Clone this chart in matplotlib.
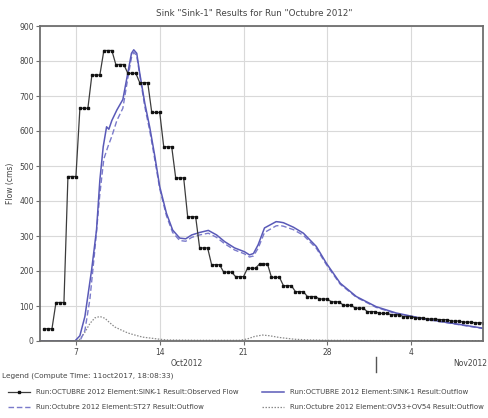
import datetime as dt
import matplotlib
matplotlib.use("Agg")
import matplotlib.pyplot as plt
from matplotlib.lines import Line2D

plt.rcParams['font.family'] = ['DejaVu Sans']

START = dt.datetime(2012, 10, 4)

# Observed flow: one daily value (Oct 4 .. Nov 9), recorded three times a day
obs_daily = [35, 110, 470, 665, 760, 830, 790, 765, 738, 653, 555, 466, 355,
             266, 218, 197, 184, 208, 220, 182, 158, 141, 127, 120, 112, 102,
             94, 84, 79, 75, 70, 66, 63, 61, 57, 54, 52]
obs_hours = [8, 16, 24]

# SINK-1 outflow (days after Oct 4 00:00, cms)
sink_days = [0.0, 2.92, 3.33, 3.75, 4.31, 4.72, 5.0, 5.28, 5.56, 5.75, 6.0,
             6.42, 6.92, 7.33, 7.64, 7.83, 8.08, 8.33, 8.75, 9.17, 9.58, 10.0,
             10.56, 11.08, 11.67, 12.17, 12.67, 13.33, 14.06, 14.75, 15.42,
             16.25, 17.08, 17.5, 17.83, 18.22, 18.75, 19.72, 20.0, 20.33,
             21.17, 22.0, 23.08, 23.92, 25.08, 26.42, 28.08, 29.75, 32.0, 36.92]
sink_flow = [0, 0, 15, 70, 203, 317, 460, 555, 612, 605, 630,
             660, 690, 765, 822, 832, 822, 765, 680, 610, 530, 441,
             365, 317, 294, 292, 303, 310, 316, 303, 284,
             266, 255, 246, 250, 275, 323, 341, 340, 338,
             325, 308, 270, 222, 165, 127, 98, 80, 64, 37]

# ST27 outflow
st27_days = [0.0, 3.33, 3.75, 4.17, 4.58, 5.0, 5.33, 5.67, 6.0, 6.42, 6.92,
             7.33, 7.64, 7.83, 8.08, 8.33, 8.75, 9.17, 9.58, 10.0, 10.56,
             11.08, 11.67, 12.17, 12.67, 13.33, 14.06, 14.75, 15.42, 16.25,
             17.08, 17.5, 17.83, 18.22, 18.75, 19.72, 20.0, 20.33, 21.17,
             22.0, 23.08, 23.92, 25.08, 26.42, 28.08, 29.75, 32.0, 36.92]
st27_flow = [0, 0, 30, 120, 260, 420, 520, 555, 585, 630, 665,
             750, 810, 825, 815, 760, 670, 600, 520, 435, 358,
             310, 287, 285, 296, 303, 308, 296, 278, 260,
             249, 240, 243, 265, 310, 329, 330, 328, 318,
             302, 265, 218, 162, 125, 96, 78, 63, 36]

# OV53+OV54 outflow
ov_days = [0.0, 2.83, 3.33, 3.75, 4.17, 4.58, 5.0, 5.42, 5.83, 6.25, 6.81,
           7.33, 7.92, 8.58, 9.31, 10.0, 10.67, 13.33, 16.67, 17.33, 17.92,
           18.58, 19.17, 20.0, 21.25, 22.5, 24.17, 30.0, 36.92]
ov_flow = [0, 0, 5, 25, 50, 66, 70, 65, 52, 40, 31,
           23, 17, 11, 8, 5, 3, 2, 2, 6, 13,
           17, 15, 10, 5, 3, 2, 1, 1]

y_ticks = [0, 100, 200, 300, 400, 500, 600, 700, 800, 900]
x_tick_dates = [dt.datetime(2012, 10, 7), dt.datetime(2012, 10, 14),
                dt.datetime(2012, 10, 21), dt.datetime(2012, 10, 28),
                dt.datetime(2012, 11, 4)]
x_tick_labels = ["7", "14", "21", "28", "4"]

legend_labels = [
    "Run:OCTUBRE 2012 Element:SINK-1 Result:Observed Flow",
    "Run:OCTUBRE 2012 Element:SINK-1 Result:Outflow",
    "Run:Octubre 2012 Element:ST27 Result:Outflow",
    "Run:Octubre 2012 Element:OV53+OV54 Result:Outflow",
]


def to_dates(days):
    return [START + dt.timedelta(days=d) for d in days]


obs_t, obs_v = [], []
for i, v in enumerate(obs_daily):
    for h in obs_hours:
        obs_t.append(START + dt.timedelta(days=i, hours=h))
        obs_v.append(v)

W, H = 489, 418
fig = plt.figure(figsize=(W / 100, H / 100), dpi=100, facecolor="white")
ax = fig.add_axes([40 / W, (H - 341) / H, 443 / W, 315 / H])

blue = "#5a5ab8"
blue_dash = "#7a7acb"
grid_c = "#d9d9d9"
frame_c = "#6e6e6e"
text_c = "#444444"

ax.plot(to_dates(ov_days), ov_flow, color="#8a8a8a", lw=0.9, ls=(0, (1.2, 1.2)))
ax.plot(to_dates(st27_days), st27_flow, color=blue_dash, lw=1.0, ls=(0, (4, 2)))
ax.plot(to_dates(sink_days), sink_flow, color=blue, lw=1.1)
ax.plot(obs_t, obs_v, color="#3c3c3c", lw=0.9, marker="s", ms=1.9,
        mfc="#111111", mec="#111111")

ax.set_xlim(START, START + dt.timedelta(days=37))
ax.set_ylim(0, 900)
ax.set_yticks(y_ticks)
ax.set_yticklabels([str(v) for v in y_ticks])
ax.set_xticks(x_tick_dates)
ax.set_xticklabels(x_tick_labels)
ax.grid(True, color=grid_c, lw=0.8)
ax.set_axisbelow(True)
for s in ax.spines.values():
    s.set_color(frame_c)
    s.set_linewidth(1.3)
ax.tick_params(axis="both", colors=frame_c, labelcolor=text_c, labelsize=5.5,
               length=3, width=0.8)
ax.tick_params(axis="x", pad=2)
ax.tick_params(axis="y", pad=1.5)
ax.set_ylabel("Flow (cms)", fontsize=5.5, color=text_c, labelpad=3)

fig.text(254 / W, 1 - 14 / H, 'Sink "Sink-1" Results for Run "Octubre 2012"',
         ha="center", va="center", fontsize=6.3, color=text_c)

# month labels under the date axis
fig.text(187 / W, 1 - 364 / H, "Oct2012", ha="center", va="center",
         fontsize=5.5, color=text_c)
fig.text(487 / W, 1 - 364 / H, "Nov2012", ha="right", va="center",
         fontsize=5.5, color=text_c)
fig.add_artist(Line2D([376 / W, 376 / W], [1 - 357 / H, 1 - 372 / H],
                      color="#555555", lw=1.0))

# legend block
fig.text(2 / W, 1 - 376 / H, "Legend (Compute Time: 11oct2017, 18:08:33)",
         ha="left", va="center", fontsize=5.3, color=text_c)

entries = [
    (8, 392, dict(color="#3c3c3c", lw=0.9), True, legend_labels[0]),
    (262, 392, dict(color=blue, lw=1.1), False, legend_labels[1]),
    (8, 407, dict(color=blue_dash, lw=1.0, ls=(0, (4, 2))), False, legend_labels[2]),
    (262, 407, dict(color="#8a8a8a", lw=0.9, ls=(0, (1.2, 1.2))), False, legend_labels[3]),
]
for x0, y0, style, marker, label in entries:
    yy = 1 - y0 / H
    fig.add_artist(Line2D([x0 / W, (x0 + 22) / W], [yy, yy], **style))
    if marker:
        fig.add_artist(Line2D([(x0 + 11) / W], [yy], marker="s", ms=2.0,
                              color="#111111", ls="none"))
    fig.text((x0 + 28) / W, yy, label, ha="left", va="center",
             fontsize=5.0, color=text_c)

fig.savefig("out.png", dpi=100, facecolor="white")
